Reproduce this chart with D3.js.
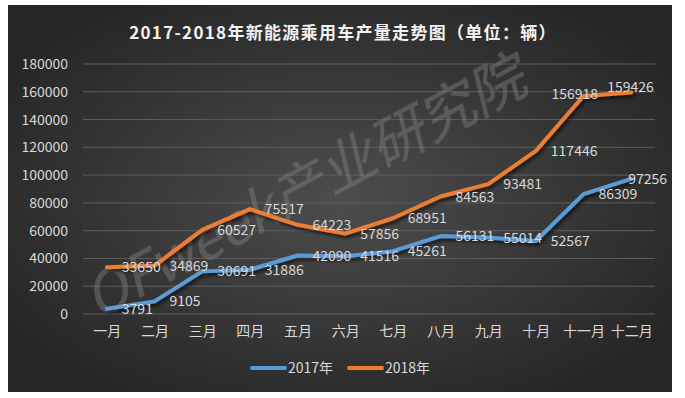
<!DOCTYPE html>
<html><head><meta charset="utf-8">
<script src="https://cdn.jsdelivr.net/npm/d3@7"></script>
<style>html,body{margin:0;padding:0;background:#fff;}svg{display:block;}</style>
</head><body>
<svg id="c" width="685" height="398"></svg>
<script>
const months = ["一月","二月","三月","四月","五月","六月","七月","八月","九月","十月","十一月","十二月"];
const values2017 = [3791,9105,30691,31886,42090,41516,45261,56131,55014,52567,86309,97256];
const values2018 = [33650,34869,60527,75517,64223,57856,68951,84563,93481,117446,156918,159426];
const yTicks = [0,20000,40000,60000,80000,100000,120000,140000,160000,180000];
const seriesNames = ["2017年","2018年"];
const title = "2017-2018年新能源乘用车产量走势图（单位：辆）";

const colors = ["#5B9BD5","#ED7D31"];
const font = "'Noto Sans CJK SC','Noto Sans',sans-serif";
const svg = d3.select("#c");
const defs = svg.append("defs");
const g = defs.append("radialGradient").attr("id","bg").attr("cx","50%").attr("cy","50%").attr("r","60%");
g.append("stop").attr("offset","0%").attr("stop-color","#4d4d4d");
g.append("stop").attr("offset","100%").attr("stop-color","#262626");
const f = defs.append("filter").attr("id","sh").attr("x","-10%").attr("y","-10%").attr("width","130%").attr("height","140%");
f.append("feDropShadow").attr("dx",2).attr("dy",3).attr("stdDeviation",1.5).attr("flood-color","#000").attr("flood-opacity",0.55);

svg.append("rect").attr("x",8).attr("y",5).attr("width",664).attr("height",387).attr("fill","url(#bg)");

const x = d3.scalePoint().domain(months).range([83,655]).padding(0.5);
const y = d3.scaleLinear().domain([0,180000]).range([314,64]);

// grid
svg.append("g").selectAll("line").data(yTicks).join("line")
  .attr("x1",83).attr("x2",655).attr("y1",d=>y(d)).attr("y2",d=>y(d))
  .attr("stroke","#5e5e5e").attr("stroke-width",1);

// y axis labels
const ya = svg.append("g").attr("transform","translate(68,0)")
  .call(d3.axisLeft(y).tickValues(yTicks).tickSize(0).tickPadding(0).tickFormat(d3.format("d")));
ya.select(".domain").remove();
ya.selectAll("text").attr("fill","#d9d9d9").attr("font-size",14).attr("font-family",font);

// x axis labels
const xa = svg.append("g").attr("transform","translate(0,326)")
  .call(d3.axisBottom(x).tickSize(0).tickPadding(0));
xa.select(".domain").remove();
xa.selectAll("text").attr("fill","#d9d9d9").attr("font-size",14).attr("font-family",font);

// watermark
svg.append("text").attr("transform","translate(98,320) rotate(-28)")
  .attr("font-size",56).attr("font-style","italic").attr("font-family",font)
  .attr("fill","#8a8a8a").attr("fill-opacity",0.4).attr("stroke","#5a5a5a").attr("stroke-opacity",0.6)
  .text("OFweek产业研究院");

// lines
const series = [values2017, values2018];
const line = d3.line().x((d,i)=>x(months[i])).y(d=>y(d));
series.forEach((s,k)=>{
  svg.append("path").datum(s).attr("d",line).attr("fill","none")
    .attr("stroke",colors[k]).attr("stroke-width",4).attr("stroke-linejoin","round").attr("stroke-linecap","round")
    .attr("filter","url(#sh)");
});

// labels
const labelAdjust = {"1-10":[-32,-2],"1-11":[-24,-6],"0-11":[-3,0]};
series.forEach((s,k)=>{
  svg.append("g").selectAll("text").data(s).join("text")
    .attr("x",(d,i)=>x(months[i]) + (labelAdjust[k+"-"+i]?labelAdjust[k+"-"+i][0]:15))
    .attr("y",(d,i)=>y(d) + (labelAdjust[k+"-"+i]?labelAdjust[k+"-"+i][1]:0))
    .attr("dy","0.36em").attr("fill","#d9d9d9").attr("font-size",14).attr("font-family",font)
    .text(d=>d);
});

// title
svg.append("text").attr("x",343).attr("y",39).attr("text-anchor","middle")
  .attr("fill","#f2f2f2").attr("font-size",17).attr("font-weight","bold").attr("letter-spacing",1.3)
  .attr("font-family",font).text(title);

// legend
const leg = svg.append("g");
const legX = [252,349];
seriesNames.forEach((n,k)=>{
  leg.append("line").attr("x1",legX[k]).attr("x2",legX[k]+33).attr("y1",368).attr("y2",368)
    .attr("stroke",colors[k]).attr("stroke-width",4).attr("stroke-linecap","round");
  leg.append("text").attr("x",legX[k]+36).attr("y",368).attr("dy","0.36em")
    .attr("fill","#d9d9d9").attr("font-size",14).attr("font-family",font).text(n);
});
</script>
</body></html>
